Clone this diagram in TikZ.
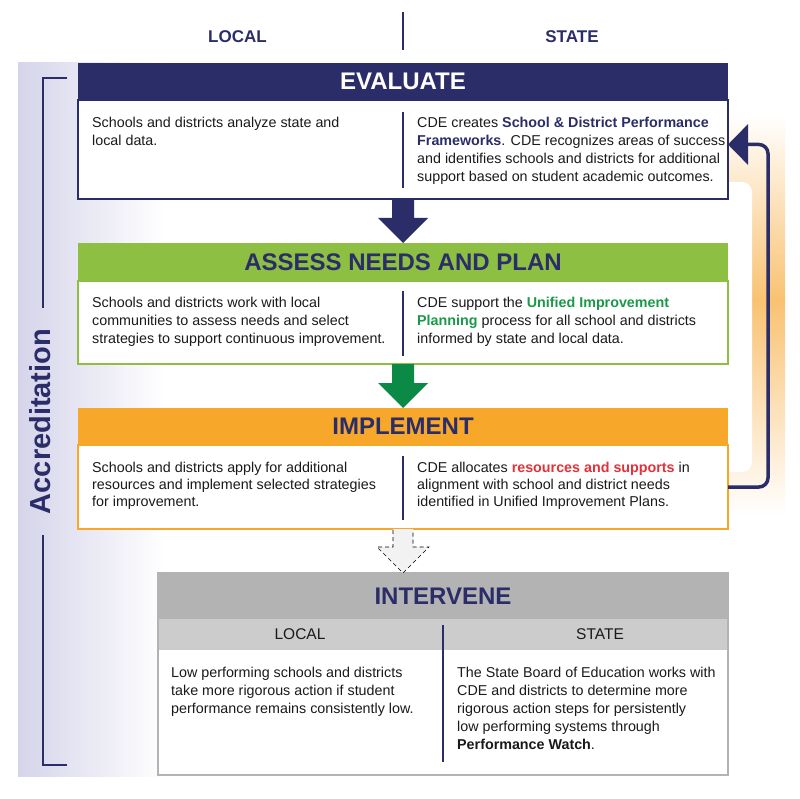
\documentclass[tikz,border=0pt]{standalone}
\usepackage{fontspec}
\setmainfont{Liberation Sans}
\usetikzlibrary{arrows.meta}
\definecolor{navy}{HTML}{2B2D69}
\definecolor{leaf}{HTML}{8CBF42}
\definecolor{amber}{HTML}{F7A82B}
\definecolor{grassarrow}{HTML}{0A8A44}
\definecolor{uipgreen}{HTML}{1A9A48}
\definecolor{resred}{HTML}{E2323B}
\definecolor{ink}{HTML}{1A1A1A}
\definecolor{greyhead}{HTML}{B3B3B3}
\definecolor{greysub}{HTML}{CCCCCC}
\definecolor{lavender}{HTML}{D5D4EA}
\definecolor{glow}{HTML}{F9C272}
\definecolor{dashfill}{HTML}{F2F2F2}
\begin{document}
\begin{tikzpicture}[x=1pt,y=-1pt]
            \tikzset{box/.style={anchor=north west, outer sep=0pt, inner sep=0pt, minimum width=650pt}};
            \tikzset{head/.style={box, text=navy, font=\fontsize{24}{24}\selectfont\bfseries}};
            \tikzset{body/.style={box, fill=white, line width=1.5pt}};
            \tikzset{txt/.style={anchor=north west, inner sep=0pt, align=left, text=ink, font=\fontsize{14.3}{18}\selectfont}};
            \tikzset{divider/.style={navy, line width=1.3pt}};
            \tikzset{bracket/.style={navy, line width=1.6pt}};
            \tikzset{toplabel/.style={inner sep=0pt, text=navy, font=\fontsize{17}{17}\selectfont\bfseries}};
            \tikzset{sublabel/.style={inner sep=0pt, text=ink, font=\fontsize{15.5}{15.5}\selectfont}};

            \useasboundingbox (0,0) rectangle (800,799);

            \shade[left color=lavender, right color=white] (18,63) rectangle (165,776);
            \shade[top color=white, bottom color=glow] (728,115) rectangle (785,300);
            \shade[top color=glow, bottom color=white] (728,300) rectangle (785,515);
            \fill[white, rounded corners=10pt] (700,182) rectangle (752,472);

            \node[toplabel] (toplocal) at (237.5,37) {LOCAL};
            \node[toplabel] (topstate) at (572,37) {STATE};
            \draw[divider] (403,12) -- (403,50);

            \node[rotate=90, inner sep=0pt, text=navy, font=\fontsize{29}{29}\selectfont\bfseries] (accr) at (40,421.5) {Accreditation};
            \draw[bracket] (67,78) -- (43,78) -- (43,308);
            \draw[bracket] (43,535) -- (43,765) -- (67,765);

            \node[head, fill=navy, text=white, minimum height=37pt] (evalhead) at (78,63) {EVALUATE};
            \node[body, draw=navy, minimum height=99pt] (evalbody) at (evalhead.south west) {};
            \draw[divider] ([yshift=-12pt]evalbody.north) -- ([yshift=11pt]evalbody.south);
            \node[txt] (evalleft) at (92,117) {Schools and districts analyze state and\\local data.};
            \node[txt] (evalright) at (417,117) {CDE creates \textcolor{navy}{\bfseries School \& District Performance}\\\textcolor{navy}{\bfseries Frameworks}. CDE recognizes areas of success\\and identifies schools and districts for additional\\support based on student academic outcomes.};

            \node[head, fill=leaf, minimum height=38pt] (asshead) at ([yshift=-44pt]evalbody.south west) {ASSESS NEEDS AND PLAN};
            \node[body, draw=leaf, minimum height=83pt] (assbody) at (asshead.south west) {};
            \draw[divider] ([yshift=-10pt]assbody.north) -- ([yshift=8pt]assbody.south);
            \node[txt] (assleft) at (92,297) {Schools and districts work with local\\communities to assess needs and select\\strategies to support continuous improvement.};
            \node[txt] (assright) at (417,297) {CDE support the \textcolor{uipgreen}{\bfseries Unified Improvement}\\\textcolor{uipgreen}{\bfseries Planning} process for all school and districts\\informed by state and local data.};

            \node[head, fill=amber, minimum height=37pt] (implhead) at ([yshift=-44pt]assbody.south west) {IMPLEMENT};
            \node[body, draw=amber, minimum height=84pt] (implbody) at (implhead.south west) {};
            \draw[divider] ([yshift=-11pt]implbody.north) -- ([yshift=9pt]implbody.south);
            \node[txt, font=\fontsize{14.3}{17}\selectfont] (implleft) at (92,462) {Schools and districts apply for additional\\resources and implement selected strategies\\for improvement.};
            \node[txt, font=\fontsize{14.3}{17}\selectfont] (implright) at (417,462) {CDE allocates \textcolor{resred}{\bfseries resources and supports} in\\alignment with school and district needs\\identified in Unified Improvement Plans.};

            \node[head, fill=greyhead, minimum width=570pt, minimum height=46pt] (inthead) at ([yshift=-44pt]implbody.south west -| 158,0) {INTERVENE};
            \node[box, fill=greysub, minimum width=570pt, minimum height=31pt] (intsub) at (inthead.south west) {};
            \node[body, minimum width=570pt, minimum height=125pt] (intbody) at (intsub.south west) {};
            \draw[greyhead, line width=2pt] (inthead.north west) rectangle (intbody.south east);
            \node[sublabel] (intlocal) at (300,634.5) {LOCAL};
            \node[sublabel] (intstate) at (600,634.5) {STATE};
            \draw[divider] ([yshift=-6pt]intsub.north) -- ([yshift=13pt]intbody.south);
            \node[txt] (intleft) at (171,667) {Low performing schools and districts\\take more rigorous action if student\\performance remains consistently low.};
            \node[txt] (intright) at (457,667) {The State Board of Education works with\\CDE and districts to determine more\\rigorous action steps for persistently\\low performing systems through\\{\bfseries Performance Watch}.};

            \fill[navy] ([xshift=-11pt]evalbody.south) -- ++(0,19) -- ++(-14,0) -- (asshead.north) -- ++(25,-25) -- ++(-14,0) -- ([xshift=11pt]evalbody.south) -- cycle;
            \fill[grassarrow] ([xshift=-11pt]assbody.south) -- ++(0,19) -- ++(-14,0) -- (implhead.north) -- ++(25,-25) -- ++(-14,0) -- ([xshift=11pt]assbody.south) -- cycle;

            \coordinate (inttip) at ([xshift=-40pt]inthead.north);
            \fill[dashfill] ([xshift=-10pt]implbody.south) -- ++(0,18) -- ++(-16,0) -- (inttip) -- ++(26,-26) -- ++(-16,0) -- ([xshift=10pt]implbody.south) -- cycle;
            \draw[black, line width=0.6pt, dash pattern=on 4pt off 3pt] ([xshift=-10pt,yshift=-1pt]implbody.south) -- ++(0,17) -- ++(-16,0) -- (inttip) -- ++(26,-26) -- ++(-16,0) -- ++(0,-17);

            \coordinate (loopend) at ([yshift=5pt]evalbody.east);
            \draw[navy, line width=3.5pt, rounded corners=9pt, -{Triangle[length=20pt,width=40pt]}] (implbody.east) -| ([xshift=40pt]loopend) -- (loopend);
        \end{tikzpicture}
\end{document}
